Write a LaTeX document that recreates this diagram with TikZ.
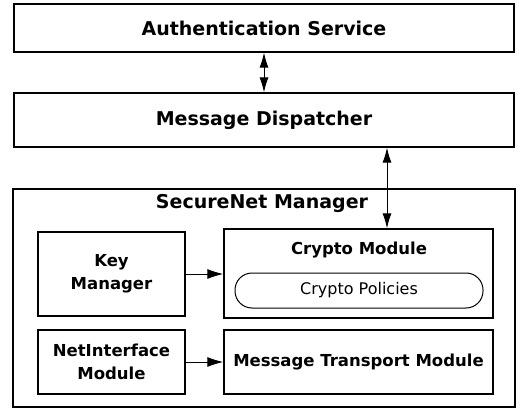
\documentclass[tikz,border=0pt]{standalone}
\usepackage{fontspec}
\setmainfont{DejaVu Sans}
\usetikzlibrary{arrows.meta}
\newcommand\bigbf{\fontsize{19}{23}\selectfont\bfseries}
\newcommand\midbf{\fontsize{16.5}{23}\selectfont\bfseries}
\begin{document}
\begin{tikzpicture}[x=1pt,y=-1pt,
    box/.style={draw,line width=1.3pt,inner sep=0pt},
    arr/.style={line width=1pt,-{Latex[length=16pt,width=10pt]}},
    darr/.style={line width=1pt,{Latex[length=15pt,width=9pt]}-{Latex[length=15pt,width=9pt]}}]
        \useasboundingbox (0,0) rectangle (517,409);
        \node[box,minimum width=500pt,minimum height=48pt,font=\bigbf] (auth) at (264,28){Authentication Service};
        \node[box,minimum width=500pt,minimum height=54pt,font=\bigbf] (disp) at (264,120){Message Dispatcher};
        \node[box,minimum width=502pt,minimum height=218pt] (snm) at (264,298){};
        \node[font=\bigbf] (snmtitle) at (262,203){SecureNet Manager};
        \node[box,minimum width=147pt,minimum height=84pt,font=\midbf,align=center] (key) at (111.5,274){Key\\Manager};
        \node[box,minimum width=269pt,minimum height=89pt] (crypto) at (358.5,273.5){};
        \node[font=\midbf] (cryptotitle) at (359,250){Crypto Module};
        \node[draw,line width=1pt,rounded corners=17pt,minimum width=248pt,minimum height=35pt,font=\fontsize{16}{20}\selectfont] (pol) at (359,290.5){Crypto Policies};
        \node[box,minimum width=147pt,minimum height=64pt,font=\midbf,align=center] (net) at (111.5,362){NetInterface\\Module};
        \node[box,minimum width=269pt,minimum height=64pt,font=\midbf] (mtm) at (358.5,362){Message Transport Module};
        \coordinate (link) at (387,0);
        \draw[darr] (auth.south) -- (disp.north);
        \draw[darr] (disp.south -| link) -- (crypto.north -| link);
        \draw[arr] (key.east) -- (key.east -| crypto.west);
        \draw[arr] (net.east) -- (mtm.west);
    \end{tikzpicture}
\end{document}
